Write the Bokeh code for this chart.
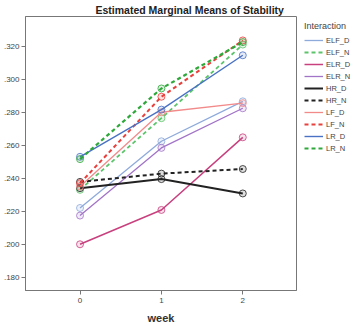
from bokeh.plotting import figure
from bokeh.layouts import row
from bokeh.models import Legend, LegendItem, FixedTicker, Range1d
from bokeh.embed import file_html
from bokeh.resources import INLINE

weeks = [0, 1, 2]
ELF_D = [0.222, 0.2624, 0.2866]
ELF_N = [0.233, 0.2764, 0.3210]
ELR_D = [0.200, 0.2208, 0.2648]
ELR_N = [0.2174, 0.2584, 0.2824]
HR_D = [0.234, 0.2395, 0.2308]
HR_N = [0.2378, 0.2428, 0.2456]
LF_D = [0.235, 0.2800, 0.2855]
LF_N = [0.237, 0.2894, 0.3235]
LR_D = [0.253, 0.2816, 0.3145]
LR_N = [0.2516, 0.2944, 0.3225]

series_names = ["ELF_D", "ELF_N", "ELR_D", "ELR_N", "HR_D", "HR_N", "LF_D", "LF_N", "LR_D", "LR_N"]
series_values = [ELF_D, ELF_N, ELR_D, ELR_N, HR_D, HR_N, LF_D, LF_N, LR_D, LR_N]
y_ticks = [0.18, 0.20, 0.22, 0.24, 0.26, 0.28, 0.30, 0.32]
y_tick_labels = [".180", ".200", ".220", ".240", ".260", ".280", ".300", ".320"]
x_ticks = [0, 1, 2]

styles = {
    "ELF_D": dict(color="#8eaadb", dash="solid", w=1.3),
    "ELF_N": dict(color="#5cc46a", dash="4 3", w=1.8),
    "ELR_D": dict(color="#c8407e", dash="solid", w=1.5),
    "ELR_N": dict(color="#a274c8", dash="solid", w=1.3),
    "HR_D": dict(color="#222222", dash="solid", w=2.0),
    "HR_N": dict(color="#222222", dash="4 3", w=2.0),
    "LF_D": dict(color="#f28a8a", dash="solid", w=1.3),
    "LF_N": dict(color="#e8403c", dash="4 3", w=2.0),
    "LR_D": dict(color="#4a72c4", dash="solid", w=1.4),
    "LR_N": dict(color="#2ea83a", dash="4 3", w=2.2),
}

p = figure(width=297, height=326, output_backend="svg", toolbar_location=None,
           x_range=Range1d(-0.67, 2.66), y_range=Range1d(0.172, 0.338),
           min_border_left=23, min_border_bottom=31, min_border_top=0, min_border_right=1)

p.title.text = "Estimated Marginal Means of Stability"
p.title.text_font = "Liberation Sans"
p.title.text_font_size = "10.5px"
p.title.text_font_style = "bold"
p.title.text_color = "#222222"
p.title.align = "left"
p.title.offset = 70
p.title.standoff = 2

# legend-only figure (its dummy lines lie outside its ranges; only the legend shows)
lg = figure(width=62, height=326, output_backend="svg", toolbar_location=None,
            x_range=Range1d(0, 1), y_range=Range1d(0, 1),
            min_border_left=2, min_border_right=0, min_border_top=0, min_border_bottom=0)
lg.axis.visible = False
lg.grid.visible = False
lg.outline_line_color = None

items = []
for name, vals in zip(series_names, series_values):
    s = styles[name]
    p.line(weeks, vals, line_color=s["color"], line_width=s["w"], line_dash=s["dash"])
    p.scatter(weeks, vals, size=7, marker="circle", line_color=s["color"], fill_color=s["color"],
              fill_alpha=0.15, line_width=1, line_alpha=0.8)
    r = lg.line([5, 6], [5, 6], line_color=s["color"], line_width=s["w"], line_dash=s["dash"])
    items.append(LegendItem(label=name, renderers=[r]))

legend = Legend(items=items, title="Interaction", location="top_left")
legend.title_text_font = "Liberation Sans"
legend.title_text_font_size = "9px"
legend.title_text_font_style = "normal"
legend.title_text_color = "#444444"
legend.title_standoff = 4
legend.label_text_font = "Liberation Sans"
legend.label_text_font_size = "7.5px"
legend.label_text_color = "#444444"
legend.glyph_width = 19
legend.glyph_height = 10
legend.label_height = 10
legend.spacing = 2
legend.label_standoff = 3
legend.padding = 0
legend.margin = 5
legend.border_line_color = None
legend.background_fill_alpha = 0
lg.add_layout(legend, "center")

p.xgrid.visible = False
p.ygrid.visible = False
p.outline_line_color = "#777777"
p.outline_line_width = 1

p.yaxis.ticker = FixedTicker(ticks=y_ticks)
p.yaxis.major_label_overrides = {t: l for t, l in zip(y_ticks, y_tick_labels)}
p.yaxis.minor_tick_line_color = None
p.yaxis.axis_line_color = "#777777"
p.yaxis.major_tick_line_color = "#777777"
p.yaxis.major_tick_out = 4
p.yaxis.major_tick_in = 0
p.yaxis.major_label_text_font = "Liberation Sans"
p.yaxis.major_label_text_font_size = "8px"
p.yaxis.major_label_text_color = "#444444"
p.yaxis.major_label_standoff = 2

p.xaxis.ticker = FixedTicker(ticks=x_ticks)
p.xaxis.minor_tick_line_color = None
p.xaxis.axis_line_color = "#777777"
p.xaxis.major_tick_line_color = "#777777"
p.xaxis.major_tick_out = 4
p.xaxis.major_tick_in = 0
p.xaxis.major_label_text_font = "Liberation Sans"
p.xaxis.major_label_text_font_size = "8px"
p.xaxis.major_label_text_color = "#444444"
p.xaxis.major_label_standoff = 3
p.xaxis.axis_label = "week"
p.xaxis.axis_label_text_font = "Liberation Sans"
p.xaxis.axis_label_text_font_size = "11px"
p.xaxis.axis_label_text_font_style = "bold"
p.xaxis.axis_label_text_color = "#333333"
p.xaxis.axis_label_standoff = 6

layout = row(p, lg)
open("out.html", "w").write(file_html(layout, INLINE))
